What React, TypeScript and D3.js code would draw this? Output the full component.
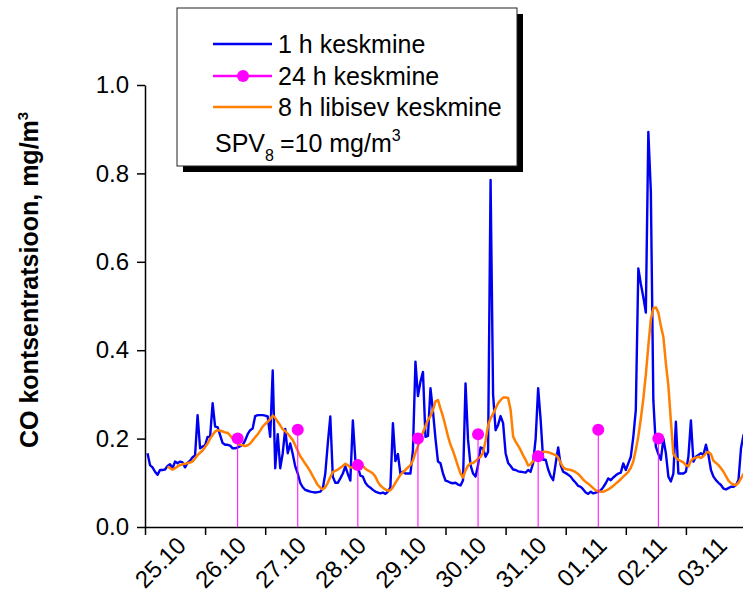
import React, { useEffect, useRef } from 'react' ;
import * as d3 from 'd3' ;

// hours are counted from 25.10 00:00
const hourlyStart = 1 ;
const hourlyMean = [
    0.167, 0.14, 0.135, 0.125, 0.118, 0.129, 0.129, 0.13, 0.138, 0.142, 0.133, 0.148,
    0.144, 0.148, 0.146, 0.135, 0.145, 0.15, 0.158, 0.162, 0.253, 0.178, 0.182, 0.185,
    0.204, 0.204, 0.28, 0.227, 0.226, 0.208, 0.19, 0.186, 0.186, 0.184, 0.178, 0.178,
    0.18, 0.183, 0.186, 0.196, 0.21, 0.219, 0.223, 0.251, 0.253, 0.253, 0.253, 0.252,
    0.25, 0.204, 0.354, 0.133, 0.21, 0.133, 0.167, 0.222, 0.167, 0.189, 0.165, 0.137,
    0.121, 0.1, 0.09, 0.084, 0.082, 0.08, 0.079, 0.078, 0.079, 0.08, 0.087, 0.121,
    0.189, 0.25, 0.114, 0.1, 0.1, 0.11, 0.121, 0.137, 0.12, 0.105, 0.241, 0.152,
    0.137, 0.116, 0.114, 0.1, 0.093, 0.089, 0.084, 0.08, 0.078, 0.076, 0.078, 0.075,
    0.08, 0.09, 0.235, 0.149, 0.165, 0.12, 0.125, 0.121, 0.121, 0.121, 0.174, 0.374,
    0.296, 0.329, 0.351, 0.204, 0.206, 0.314, 0.261, 0.2, 0.148, 0.144, 0.121, 0.105,
    0.103, 0.1, 0.099, 0.1, 0.096, 0.094, 0.106, 0.325, 0.197, 0.14, 0.121, 0.114,
    0.14, 0.18, 0.178, 0.159, 0.17, 0.785, 0.3, 0.219, 0.231, 0.251, 0.235, 0.167,
    0.145, 0.138, 0.13, 0.129, 0.126, 0.125, 0.124, 0.123, 0.129, 0.125, 0.145, 0.2,
    0.314, 0.242, 0.152, 0.152, 0.13, 0.115, 0.106, 0.144, 0.18, 0.14, 0.125, 0.122,
    0.118, 0.114, 0.106, 0.1, 0.093, 0.091, 0.085, 0.078, 0.075, 0.08, 0.076, 0.078,
    0.08, 0.083, 0.09, 0.099, 0.11, 0.106, 0.112, 0.117, 0.121, 0.123, 0.144, 0.129,
    0.144, 0.159, 0.204, 0.265, 0.585, 0.55, 0.52, 0.485, 0.894, 0.759, 0.287, 0.182,
    0.165, 0.152, 0.2, 0.167, 0.114, 0.103, 0.121, 0.238, 0.121, 0.121, 0.121, 0.125,
    0.159, 0.241, 0.148, 0.159, 0.163, 0.167, 0.163, 0.186, 0.163, 0.129, 0.114, 0.106,
    0.1, 0.095, 0.087, 0.085, 0.088, 0.091, 0.091, 0.095, 0.106, 0.178, 0.208, 0.215,
] ;

const rollingStart = 9 ;
const rolling8h = [
    0.137, 0.133, 0.13, 0.133, 0.137, 0.14, 0.142, 0.143, 0.144, 0.146, 0.148, 0.155,
    0.163, 0.168, 0.173, 0.181, 0.189, 0.2, 0.208, 0.216, 0.219, 0.218, 0.216, 0.214,
    0.213, 0.207, 0.2, 0.194, 0.19, 0.186, 0.185, 0.183, 0.185, 0.189, 0.196, 0.203,
    0.21, 0.218, 0.227, 0.233, 0.238, 0.244, 0.252, 0.247, 0.238, 0.23, 0.221, 0.217,
    0.211, 0.204, 0.197, 0.185, 0.172, 0.16, 0.152, 0.143, 0.135, 0.126, 0.115, 0.105,
    0.095, 0.089, 0.085, 0.09, 0.1, 0.113, 0.124, 0.127, 0.13, 0.134, 0.138, 0.143,
    0.14, 0.135, 0.134, 0.137, 0.139, 0.14, 0.138, 0.132, 0.128, 0.125, 0.121, 0.114,
    0.102, 0.094, 0.089, 0.085, 0.082, 0.083, 0.09, 0.1, 0.109, 0.118, 0.124, 0.129,
    0.135, 0.14, 0.15, 0.168, 0.183, 0.2, 0.214, 0.228, 0.242, 0.251, 0.265, 0.284,
    0.287, 0.268, 0.25, 0.228, 0.205, 0.186, 0.172, 0.155, 0.137, 0.121, 0.112, 0.128,
    0.139, 0.144, 0.145, 0.149, 0.155, 0.159, 0.168, 0.195, 0.23, 0.246, 0.256, 0.268,
    0.28, 0.287, 0.293, 0.293, 0.292, 0.265, 0.205, 0.193, 0.184, 0.174, 0.162, 0.152,
    0.139, 0.142, 0.149, 0.155, 0.162, 0.166, 0.17, 0.17, 0.169, 0.167, 0.165, 0.163,
    0.157, 0.145, 0.135, 0.131, 0.13, 0.129, 0.127, 0.124, 0.12, 0.114, 0.107, 0.102,
    0.098, 0.093, 0.088, 0.083, 0.081, 0.08, 0.08, 0.082, 0.085, 0.089, 0.093, 0.098,
    0.103, 0.108, 0.114, 0.119, 0.125, 0.134, 0.148, 0.175, 0.205, 0.245, 0.29, 0.345,
    0.41, 0.47, 0.495, 0.497, 0.485, 0.455, 0.43, 0.37, 0.32, 0.24, 0.165, 0.157,
    0.152, 0.149, 0.146, 0.14, 0.137, 0.15, 0.155, 0.157, 0.159, 0.156, 0.16, 0.167,
    0.17, 0.165, 0.15, 0.145, 0.14, 0.133, 0.125, 0.115, 0.105, 0.099, 0.096, 0.095,
    0.1, 0.11, 0.12, 0.126,
] ;

const dailyHours = [ 37, 61, 85, 109, 133, 157, 181, 205 ] ;
const dailyMean = [ 0.2, 0.22, 0.14, 0.2, 0.21, 0.16, 0.22, 0.2 ] ;

const dayLabels = [ '25.10', '26.10', '27.10', '28.10', '29.10', '30.10', '31.10', '01.11', '02.11', '03.11' ] ;
const yTicks = [ 0, 0.2, 0.4, 0.6, 0.8, 1.0 ] ;
const legendLabels = [ '1 h keskmine', '24 h keskmine', '8 h libisev keskmine' ] ;

const FONT = "'Liberation Sans', Arial, Helvetica, sans-serif" ;
const BLUE = '#0000f0' ;
const PINK = '#ff00ff' ;
const ORANGE = '#ff7f00' ;

const App = () => {

    const ref = useRef<SVGSVGElement>(null) ;

    useEffect( () => {

        const svg = d3.select(ref.current) ;
        svg.selectAll('*').remove() ;

        const xScale = d3.scaleLinear().domain([0, 240]).range([145, 746]) ;
        const yScale = d3.scaleLinear().domain([0, 1]).range([527, 85]) ;

        // axes
        const yAxis = svg.append('g')
            .attr('transform', 'translate(145, 0)')
            .call(d3.axisLeft(yScale).tickValues(yTicks).tickFormat(d3.format('.1f')).tickSize(8).tickSizeOuter(0).tickPadding(8)) ;
        yAxis.selectAll('text').style('font-size', '24px').style('font-family', FONT).attr('fill', '#000') ;

        const xAxis = svg.append('g')
            .attr('transform', 'translate(0, 527)')
            .call(d3.axisBottom(xScale).tickValues(d3.range(0, 240, 24)).tickFormat((d, i) => dayLabels[i]).tickSize(8).tickSizeOuter(0)) ;
        xAxis.selectAll('text')
            .style('font-size', '24px').style('font-family', FONT).attr('fill', '#000')
            .attr('x', 0).attr('y', 0).attr('dy', 0)
            .attr('text-anchor', 'end')
            .attr('transform', 'translate(42, 20) rotate(-45)') ;

        svg.selectAll('.domain, .tick line').attr('stroke', '#000').attr('stroke-width', 1.5) ;

        // y title
        const title = svg.append('text')
            .attr('transform', 'translate(38, 448) rotate(-90)')
            .style('font-family', FONT).style('font-size', '25px').style('font-weight', 'bold')
            .text('CO kontsentratsioon, mg/m') ;
        title.append('tspan').attr('dy', -10).style('font-size', '15px').text('3') ;

        // lines
        const line = (start: number) => d3.line<number>()
            .x((d, i) => xScale(start + i))
            .y(d => yScale(d)) ;

        svg.append('path')
            .datum(hourlyMean)
            .attr('fill', 'none').attr('stroke', BLUE).attr('stroke-width', 2.4)
            .attr('stroke-linejoin', 'round')
            .attr('d', line(hourlyStart)) ;

        svg.append('path')
            .datum(rolling8h)
            .attr('fill', 'none').attr('stroke', ORANGE).attr('stroke-width', 2.5)
            .attr('stroke-linejoin', 'round')
            .attr('d', line(rollingStart)) ;

        const daily = svg.append('g') ;
        daily.selectAll('line')
            .data(dailyMean)
            .join('line')
            .attr('x1', (d, i) => xScale(dailyHours[i]))
            .attr('x2', (d, i) => xScale(dailyHours[i]))
            .attr('y1', d => yScale(d))
            .attr('y2', yScale(0))
            .attr('stroke', PINK).attr('stroke-width', 1) ;
        daily.selectAll('circle')
            .data(dailyMean)
            .join('circle')
            .attr('cx', (d, i) => xScale(dailyHours[i]))
            .attr('cy', d => yScale(d))
            .attr('r', 6)
            .attr('fill', PINK) ;

        // legend
        const legend = svg.append('g') ;
        legend.append('rect').attr('x', 183).attr('y', 14).attr('width', 340).attr('height', 158).attr('fill', '#000') ;
        legend.append('rect').attr('x', 177).attr('y', 8).attr('width', 340).attr('height', 158)
            .attr('fill', '#fff').attr('stroke', '#222').attr('stroke-width', 1) ;

        const colors = [ BLUE, PINK, ORANGE ] ;
        const rowY = [ 44, 76, 107 ] ;
        legendLabels.map( (label, i) => {
            legend.append('line')
                .attr('x1', 213).attr('x2', 272).attr('y1', rowY[i]).attr('y2', rowY[i])
                .attr('stroke', colors[i]).attr('stroke-width', 2.5) ;
            if (i === 1)
                legend.append('circle').attr('cx', 243).attr('cy', rowY[i]).attr('r', 6).attr('fill', PINK) ;
            legend.append('text')
                .attr('x', 278).attr('y', rowY[i] + 9)
                .style('font-family', FONT).style('font-size', '25px')
                .text(label) ;
        })

        const spv = legend.append('text')
            .attr('x', 215).attr('y', 152)
            .style('font-family', FONT).style('font-size', '25px')
            .text('SPV') ;
        spv.append('tspan').attr('dy', 9).style('font-size', '16px').text('8') ;
        spv.append('tspan').attr('dy', -9).attr('dx', 6).text('=10 mg/m') ;
        spv.append('tspan').attr('dy', -11).style('font-size', '16px').text('3') ;

    }, [])

    return (
        <svg ref={ref} width={743} height={592} style={{ position: 'absolute', left: 0, top: 0, background: '#fff' }} />
    )
}

export default App ;
